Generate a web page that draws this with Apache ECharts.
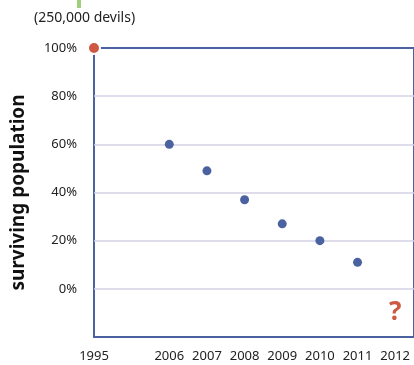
<!DOCTYPE html>
<html>
<head>
<meta charset="utf-8">
<script src="https://cdn.jsdelivr.net/npm/echarts@6/dist/echarts.min.js"></script>
<style>
  html, body { margin: 0; padding: 0; background: #fff; }
  #chart { width: 414px; height: 365px; }
</style>
</head>
<body>
<div id="chart"></div>
<script>
  // 数据
  const categories = ['1995', '', '2006', '2007', '2008', '2009', '2010', '2011', '2012'];
  const startValue = [100, null, null, null, null, null, null, null, null];
  const surviving = [null, null, 60, 49, 37, 27, 20, 11, null];
  const unknown = [null, null, null, null, null, null, null, null, -10];
  const yTicks = [-20, 0, 20, 40, 60, 80, 100];

  const BLUE = '#4a62a0';
  const RED = '#cf5843';
  const FONT = '"Noto Sans", sans-serif';

  const toPoints = arr => arr.map((v, i) => (v === null ? null : [i, v])).filter(p => p);

  const chart = echarts.init(document.getElementById('chart'));

  const option = {
    animation: false,
    textStyle: { fontFamily: FONT },
    title: {
      text: '(250,000 devils)',
      left: 29,
      top: 6,
      textStyle: { fontSize: 14, fontWeight: 'normal', color: '#222', fontFamily: FONT },
    },
    graphic: [
      { type: 'rect', left: 77, top: 0, shape: { width: 4, height: 8 }, style: { fill: '#9fcf7a' } },
    ],
    grid: {
      left: 94,
      right: -4,
      top: 48,
      bottom: 28,
      show: true,
      borderColor: BLUE,
      borderWidth: 2,
      backgroundColor: 'transparent',
    },
    xAxis: {
      type: 'value',
      min: 0,
      max: 8.5,
      interval: 1,
      axisLine: { show: false },
      axisTick: { show: false },
      splitLine: { show: false },
      axisLabel: {
        margin: 13,
        fontSize: 13,
        color: '#222',
        showMaxLabel: false,
        formatter: v => categories[v] || '',
      },
    },
    yAxis: {
      type: 'value',
      min: yTicks[0],
      max: yTicks[yTicks.length - 1],
      interval: 20,
      name: 'surviving population',
      nameLocation: 'middle',
      nameGap: 66,
      nameTextStyle: { fontSize: 19, fontWeight: 'bold', color: '#111', fontFamily: FONT },
      axisLine: { show: false },
      axisTick: { show: false },
      splitLine: {
        showMinLine: false,
        showMaxLine: false,
        lineStyle: { color: '#d2d2e6', width: 1.5 },
      },
      axisLabel: {
        margin: 17,
        fontSize: 13,
        color: '#222',
        formatter: v => (v < 0 ? '' : v + '%'),
      },
    },
    series: [
      {
        type: 'scatter',
        data: toPoints(surviving),
        symbolSize: 9,
        itemStyle: { color: BLUE, opacity: 1 },
        z: 3,
      },
      {
        type: 'scatter',
        data: toPoints(startValue),
        symbolSize: 12,
        itemStyle: { color: RED, borderColor: '#fff', borderWidth: 2, opacity: 1 },
        clip: false,
        z: 5,
      },
      {
        type: 'scatter',
        data: toPoints(unknown),
        symbolSize: 1,
        itemStyle: { color: 'rgba(0,0,0,0)', opacity: 1 },
        label: {
          show: true,
          position: 'inside',
          formatter: '?',
          fontSize: 26,
          fontWeight: 'bold',
          color: RED,
          opacity: 1,
          fontFamily: FONT,
        },
        z: 4,
      },
    ],
  };

  chart.setOption(option);
</script>
</body>
</html>
